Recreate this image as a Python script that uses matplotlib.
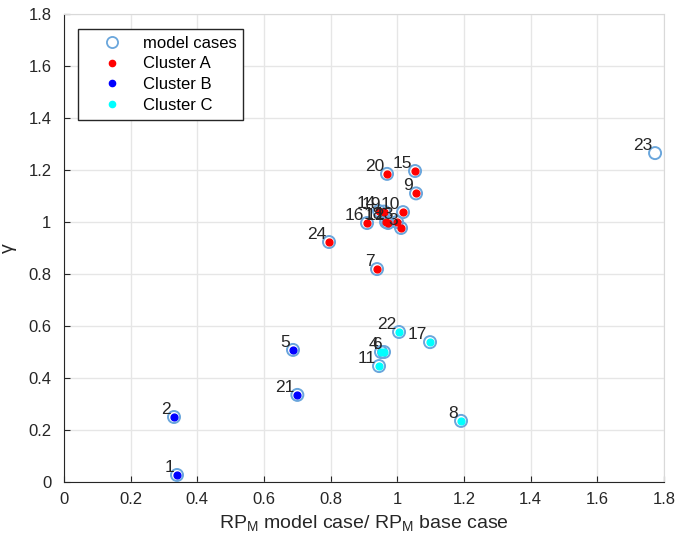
import matplotlib
matplotlib.use("Agg")
import matplotlib.pyplot as plt
from matplotlib.lines import Line2D

plt.rcParams['font.family'] = ['Liberation Sans', 'DejaVu Sans']

labels_A = ['3', '7', '9', '10', '12', '13', '14', '15', '16', '18', '19', '20', '24']
x_A = [1.011, 0.939, 1.056, 1.017, 0.972, 0.999, 0.945, 1.053, 0.909, 0.966, 0.960, 0.969, 0.795]
y_A = [0.977, 0.819, 1.110, 1.038, 0.996, 1.000, 1.042, 1.196, 0.996, 1.000, 1.040, 1.185, 0.923]

labels_B = ['1', '2', '5', '21']
x_B = [0.339, 0.330, 0.687, 0.700]
y_B = [0.027, 0.250, 0.508, 0.335]

labels_C = ['4', '6', '8', '11', '17', '22']
x_C = [0.951, 0.960, 1.191, 0.945, 1.098, 1.005]
y_C = [0.500, 0.500, 0.235, 0.446, 0.538, 0.577]

labels_other = ['23']
x_other = [1.773]
y_other = [1.265]

xticks = [0, 0.2, 0.4, 0.6, 0.8, 1, 1.2, 1.4, 1.6, 1.8]
yticks = [0, 0.2, 0.4, 0.6, 0.8, 1, 1.2, 1.4, 1.6, 1.8]

fig = plt.figure(figsize=(6.75, 5.48), dpi=100)
ax = fig.add_axes([0.0948, 0.1204, 0.889, 0.8541])

ring = '#6aa6dc'
all_x = x_A + x_B + x_C + x_other
all_y = y_A + y_B + y_C + y_other
all_l = labels_A + labels_B + labels_C + labels_other
ax.scatter(all_x, all_y, s=75, facecolors='none', edgecolors=ring, linewidths=1.4, zorder=3)
ax.scatter(x_A, y_A, s=24, color='#ff0000', zorder=4)
ax.scatter(x_B, y_B, s=24, color='#0000ff', zorder=4)
ax.scatter(x_C, y_C, s=24, color='#00ffff', zorder=4)

for xv, yv, lab in zip(all_x, all_y, all_l):
    ax.annotate(lab, (xv, yv), xytext=(-2, 0), textcoords='offset points',
                ha='right', va='bottom', fontsize=12.5, color='#262626', zorder=5)

ax.set_xlim(0, 1.8)
ax.set_ylim(0, 1.8)
ax.set_xticks(xticks)
ax.set_yticks(yticks)
ax.set_xticklabels([f'{t:g}' for t in xticks])
ax.set_yticklabels([f'{t:g}' for t in yticks])
ax.tick_params(direction='in', labelsize=12, colors='#262626', length=4)
ax.tick_params(axis='x', pad=7)
ax.tick_params(axis='y', pad=9)
ax.grid(True, color='#e6e6e6', linewidth=1)
ax.set_axisbelow(True)
for s in ['top', 'right']:
    ax.spines[s].set_color('#d9d9d9')
for s in ['left', 'bottom']:
    ax.spines[s].set_color('#262626')

ax.set_xlabel(r'RP$_\mathregular{M}$ model case/ RP$_\mathregular{M}$ base case', fontsize=14, color='#262626', labelpad=5)
ax.set_ylabel('γ', fontsize=14, color='#262626', labelpad=8)

handles = [
    Line2D([], [], linestyle='none', marker='o', markersize=8, markerfacecolor='none', markeredgecolor=ring, markeredgewidth=1.3),
    Line2D([], [], linestyle='none', marker='o', markersize=4.5, color='#ff0000'),
    Line2D([], [], linestyle='none', marker='o', markersize=4.5, color='#0000ff'),
    Line2D([], [], linestyle='none', marker='o', markersize=4.5, color='#00ffff'),
]
leg = ax.legend(handles, ['model cases', 'Cluster A', 'Cluster B', 'Cluster C'],
                loc='upper left', bbox_to_anchor=(0.023, 0.968), fontsize=12,
                frameon=True, fancybox=False, edgecolor='#262626', framealpha=1,
                handletextpad=0.2, borderpad=0.4, labelspacing=0.35, handlelength=3.3,
                borderaxespad=0.0)
leg.get_frame().set_linewidth(1)

fig.savefig('out.png', dpi=100)
